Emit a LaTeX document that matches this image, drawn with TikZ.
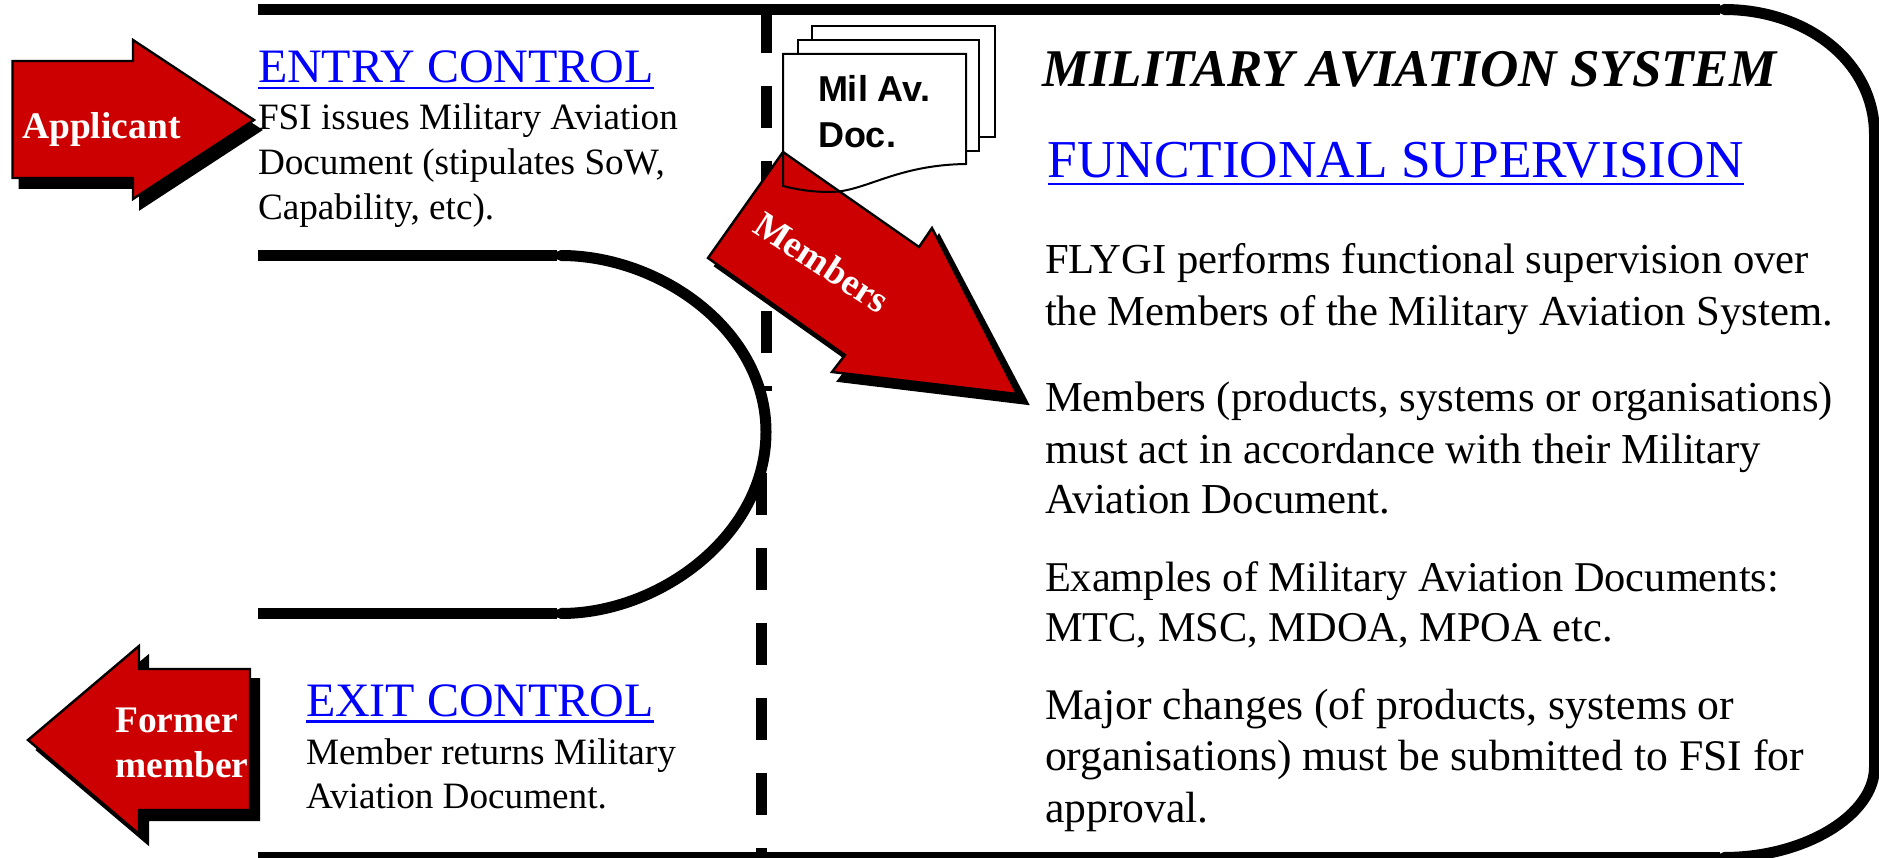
\documentclass[tikz,border=0pt]{standalone}
\usepackage{fontspec}
\setmainfont{Liberation Serif}
\newfontfamily\sansf{Liberation Sans}
\definecolor{armyred}{RGB}{204,0,0}
\definecolor{linkblue}{RGB}{0,0,255}
\newcommand{\fsz}[1]{\fontsize{#1}{#1}\selectfont}
\tikzset{
  frame/.style={line width=11pt,line cap=butt},
  curved/.style={line width=11pt,line cap=round},
  dashline/.style={line width=11pt,dash pattern=on 42pt off 33pt},
  redarrow/.style={fill=armyred,draw=black,line width=2.4pt,miter limit=10},
  shadowarrow/.style={fill=black,draw=black,line width=2pt},
  sheet/.style={draw=black,line width=2pt,fill=white},
  txt/.style={anchor=base west,inner sep=0pt,outer sep=0pt},
  bodyl/.style={txt,font=\fsz{37.2}},
  bodyr/.style={txt,font=\fsz{42.7}},
  bodyq/.style={txt,font=\fsz{43.7}},
  head/.style={txt,text=linkblue},
  uline/.style={draw=linkblue,line width=2.6pt},
  lab/.style={anchor=base west,inner sep=0pt,text=white,font=\fsz{37.5}\bfseries},
}
\begin{document}
\begin{tikzpicture}[x=1pt,y=-1pt]
\useasboundingbox (0,0) rectangle (1879,858);
\fill[white] (0,0) rectangle (1879,858);
% dashed divider
\coordinate (da) at (766.3,11);
\coordinate (db) at (766.3,391);
\coordinate (dc) at (761.5,473);
\coordinate (dd) at (761.5,857);
\draw[dashline] (da) -- (db);
\draw[dashline] (dc) -- (dd);
% frame
\coordinate (t0) at (258,9.5);
\coordinate (t1) at (1720,9.5);
\coordinate (t1c) at (1724,9.5);
\coordinate (t2) at (1874.5,135);
\coordinate (b2) at (1874.5,767);
\coordinate (b1c) at (1724,857.5);
\coordinate (b1) at (1720,857.5);
\coordinate (b0) at (258,857.5);
\draw[frame] (t0) -- (t1);
\draw[curved] (t1c) .. controls (1805,9.5) and (1874.5,60) .. (t2);
\draw[frame] (t2) -- (b2);
\draw[curved] (b2) .. controls (1874.5,815) and (1805,857.5) .. (b1c);
\draw[frame] (b1) -- (b0);
% entry/exit lines and loop
\coordinate (e0) at (258,255.5);
\coordinate (e1) at (557,255.5);
\coordinate (e2) at (561,255.5);
\coordinate (em) at (766,432);
\coordinate (x2) at (561,613.5);
\coordinate (x1) at (557,613.5);
\coordinate (x0) at (258,613.5);
\draw[frame] (e0) -- (e1);
\draw[curved] (e2) .. controls (660,255.5) and (766,330) .. (em) .. controls (766,535) and (660,613.5) .. (x2);
\draw[frame] (x1) -- (x0);
% document stack
\coordinate (s1) at (812,26);
\coordinate (s2) at (995,137);
\coordinate (m1) at (798,40);
\coordinate (m2) at (979,151);
\draw[sheet] (s1) rectangle (s2);
\draw[sheet] (m1) rectangle (m2);
\coordinate (fa) at (783,54);
\coordinate (fb) at (966,54);
\coordinate (fc) at (966,164);
\coordinate (fd) at (783,186);
\fill[white] (fa) -- (fb) -- (fc) .. controls (895,165) and (865,192) .. (830,192) .. controls (810,192) and (795,189) .. (fd) -- cycle;
% members arrow
\draw[shadowarrow] (790,160) -- (926,255) -- (939,235) -- (1028,404) -- (838,381) -- (852,363) -- (715,266) -- cycle;
\draw[redarrow] (783,152) -- (919,247) -- (932,228) -- (1017,394) -- (832,372) -- (845,355) -- (708,258) -- cycle;
\draw[draw=black,line width=2pt] (fa) -- (fb) -- (fc) .. controls (895,165) and (865,192) .. (830,192) .. controls (810,192) and (795,189) .. (fd) -- cycle;
\node[anchor=center,inner sep=0pt,text=white,font=\fsz{37.5}\bfseries,rotate=-33] (members) at (822,262) {Members};
\node[txt,font=\fsz{36}\sansf\bfseries] (mil) at (818,102) {Mil Av.};
\node[txt,font=\fsz{36}\sansf\bfseries] (doc) at (818,148) {Doc.};
% applicant arrow
\draw[shadowarrow,shift={(7,10)}] (12.5,61) -- (133,61) -- (133,40) -- (254,120) -- (133,199) -- (133,178) -- (12.5,178) -- cycle;
\draw[redarrow] (12.5,61) -- (133,61) -- (133,40) -- (254,120) -- (133,199) -- (133,178) -- (12.5,178) -- cycle;
\node[lab] (applicant) at (22,139) {Applicant};
% former arrow
\draw[shadowarrow,shift={(9,10)}] (250,669) -- (139,669) -- (139,646) -- (28,740) -- (139,834) -- (139,810) -- (250,810) -- cycle;
\draw[redarrow] (250,669) -- (139,669) -- (139,646) -- (28,740) -- (139,834) -- (139,810) -- (250,810) -- cycle;
\node[lab] (former) at (115,732) {Former};
\node[lab] (member) at (115,777) {member};
% left texts
\node[head,font=\fsz{48}] (entry) at (258,83) {ENTRY CONTROL};
\draw[uline] ([yshift=-5pt]entry.base west) -- ([yshift=-5pt]entry.base east);
\node[bodyl] (e1t) at (258,130) {FSI issues Military Aviation};
\node[bodyl] (e2t) at (258,175) {Document (stipulates SoW,};
\node[bodyl] (e3t) at (258,220) {Capability, etc).};
\node[head,font=\fsz{48}] (exit) at (306,716) {EXIT CONTROL};
\draw[uline] ([yshift=-5.5pt]exit.base west) -- ([yshift=-5.5pt]exit.base east);
\node[bodyl] (x1t) at (306,764) {Member returns Military};
\node[bodyl] (x2t) at (306,808) {Aviation Document.};
% right texts
\node[txt,font=\fsz{53}\bfseries\itshape] (title) at (1042,87) {MILITARY AVIATION SYSTEM};
\node[head,font=\fsz{53.3}] (func) at (1047.5,178) {FUNCTIONAL SUPERVISION};
\draw[uline] ([yshift=-6pt]func.base west) -- ([yshift=-6pt]func.base east);
\node[bodyr] (r1) at (1045,274) {FLYGI performs functional supervision over};
\node[bodyr] (r2) at (1045,326) {the Members of the Military Aviation System.};
\node[bodyr] (r3) at (1045,411) {Members (products, systems or organisations)};
\node[bodyr] (r4) at (1045,463) {must act in accordance with their Military};
\node[bodyr] (r5) at (1045,513) {Aviation Document.};
\node[txt,font=\fsz{42.4}] (r6) at (1045,591) {Examples of Military Aviation Documents:};
\node[txt,font=\fsz{42.4}] (r7) at (1045,641) {MTC, MSC, MDOA, MPOA etc.};
\node[bodyq] (r8) at (1045,719) {Major changes (of products, systems or};
\node[bodyq] (r9) at (1045,770) {organisations) must be submitted to FSI for};
\node[bodyq] (r10) at (1045,822) {approval.};
\end{tikzpicture}
\end{document}
